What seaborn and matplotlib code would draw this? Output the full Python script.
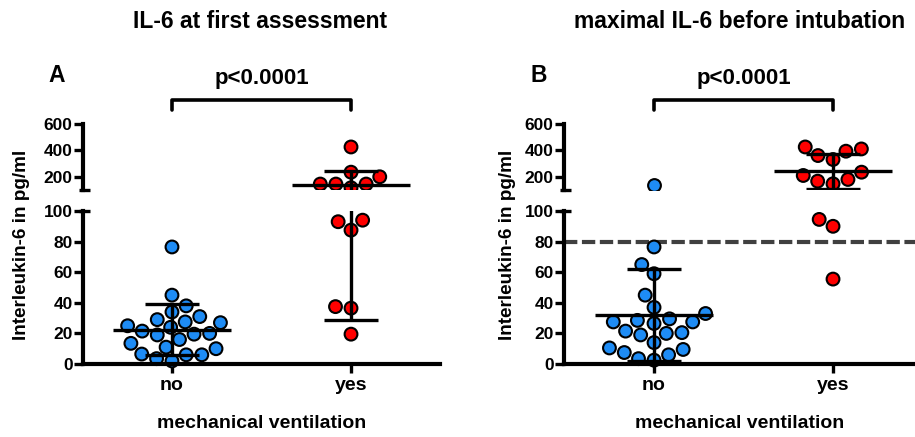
import warnings
import pandas as pd
import seaborn as sns
import matplotlib.pyplot as plt
from matplotlib.transforms import blended_transform_factory

warnings.filterwarnings("ignore")

groups = ["no", "yes"]

# IL-6 (pg/ml) per patient
first_no = [76.5, 45, 38, 34, 29, 31, 27, 24, 25, 27.5, 20, 19, 16, 19.5, 21.5,
            11, 6.5, 6, 2, 3.5, 6, 10, 13.5]
first_yes = [426, 235, 200, 145, 145, 117, 145, 94, 93, 87.5, 37.5, 36.5, 19.5]
max_no = [140, 76.5, 65, 59, 45, 37, 33, 28.5, 27.5, 26.5, 27.5, 29.5, 21.5, 20,
          19, 20.5, 14, 9.5, 6, 2.5, 3.5, 7.5, 10.5]
max_yes = [411, 361, 331, 394, 426, 235, 180, 147, 167, 210, 94.5, 90, 55.5]

# median and interquartile range drawn in the figure
first_median = [22, 135]
first_q1 = [6, 29]
first_q3 = [39, 245]
max_median = [32, 243]
max_q1 = [2, 109]
max_q3 = [62, 371]

titles = ["IL-6 at first assessment", "maximal IL-6 before intubation"]
letters = ["A", "B"]
p_text = "p<0.0001"
cutoff = 80

colors = ["#1e8cf5", "#ff0000"]

sns.set_style("ticks")
plt.rcParams["font.family"] = ["Liberation Sans", "DejaVu Sans"]
plt.rcParams["font.weight"] = "bold"
plt.rcParams["axes.labelweight"] = "bold"
for key in ["text.color", "axes.labelcolor", "xtick.color", "ytick.color", "axes.edgecolor"]:
    plt.rcParams[key] = "black"

W, H = 915, 437
fig = plt.figure(figsize=(W / 100, H / 100), dpi=100)


def px_axes(left, top, right, bottom):
    return fig.add_axes([left / W, 1 - bottom / H, (right - left) / W, (bottom - top) / H])


panels = [
    dict(no=first_no, yes=first_yes, med=first_median, q1=first_q1, q3=first_q3,
         left=83, right=440, xlim=(-0.497, 1.497), title_x=260, letter_x=57, ylab_x=22),
    dict(no=max_no, yes=max_yes, med=max_median, q1=max_q1, q3=max_q3,
         left=564, right=915, xlim=(-0.503, 1.458), title_x=740, letter_x=539, ylab_x=507),
]

for k, p in enumerate(panels):
    ax_up = px_axes(p["left"], 124, p["right"], 190)
    ax_lo = px_axes(p["left"], 211, p["right"], 364)

    df = pd.DataFrame({
        "group": ["no"] * len(p["no"]) + ["yes"] * len(p["yes"]),
        "value": p["no"] + p["yes"],
    })

    for ax, part, ylim, clip in [(ax_lo, df[df.value <= 100], (0, 100), False),
                                 (ax_up, df[df.value > 100], (100, 600), True)]:
        sns.swarmplot(data=part, x="group", y="value", order=groups, hue="group",
                      hue_order=groups, palette=colors, size=9.2, edgecolor="black",
                      linewidth=1.5, legend=False, ax=ax, clip_on=clip, zorder=2)
        for i in range(2):
            ax.hlines(p["med"][i], i - 0.33, i + 0.33, color="black", lw=2.4, zorder=4)
            ax.hlines([p["q1"][i], p["q3"][i]], i - 0.15, i + 0.15, color="black", lw=2.4, zorder=4)
            ax.vlines(i, p["q1"][i], p["q3"][i], color="black", lw=2.4, zorder=4)
        ax.set_ylim(*ylim)
        ax.set_xlim(*p["xlim"])
        ax.set_ylabel("")
        ax.tick_params(axis="y", length=6.5, width=2.4, labelsize=12.5, pad=1)
        ax.tick_params(axis="x", length=6.5, width=2.4, labelsize=14, pad=3)
        for s in ["left", "bottom"]:
            ax.spines[s].set_linewidth(3)
        sns.despine(ax=ax)
        # small break caps at 100
        tr = blended_transform_factory(ax.transAxes, ax.transData)
        ax.plot([-0.012, 0.02], [100, 100], transform=tr, color="black", lw=2.4,
                clip_on=False, solid_capstyle="butt")

    ax_up.set_yticks([200, 400, 600])
    ax_up.spines["bottom"].set_visible(False)
    ax_up.set_xticks([])
    ax_up.set_xlabel("")
    ax_lo.set_yticks([0, 20, 40, 60, 80, 100])
    ax_lo.set_xticks([0, 1])
    ax_lo.set_xticklabels(groups)
    ax_lo.set_xlabel("mechanical ventilation", fontsize=14, labelpad=15)

    if k == 1:
        ax_lo.axhline(cutoff, color="#404040", lw=3, dashes=(3.2, 1.1), zorder=1.5)

    # significance bracket
    tr = blended_transform_factory(ax_up.transData, ax_up.transAxes)
    ax_up.plot([0, 0, 1, 1], [1.212, 1.364, 1.364, 1.212], transform=tr,
               color="black", lw=2.6, clip_on=False)
    ax_up.text(0.5, 1.53, p_text, transform=tr, ha="center", va="bottom", fontsize=16)

    fig.text(p["title_x"] / W, 1 - 22 / H, titles[k], ha="center", va="center", fontsize=16.5)
    fig.text(p["letter_x"] / W, 1 - 75 / H, letters[k], ha="center", va="center", fontsize=16.5)
    fig.text(p["ylab_x"] / W, 1 - 245 / H, "Interleukin-6 in pg/ml", rotation=90,
             ha="center", va="center", fontsize=13.6)

fig.savefig("out.png", dpi=100)
